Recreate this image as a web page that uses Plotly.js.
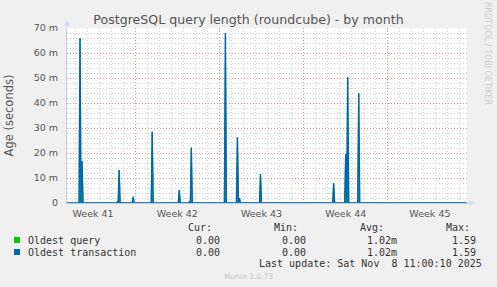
<!DOCTYPE html>
<html><head><meta charset="utf-8">
<script src="https://cdn.plot.ly/plotly-3.0.1.min.js"></script>
<style>html,body{margin:0;padding:0;background:#F0F0F0;}</style>
</head><body>
<div id="chart" style="width:497px;height:287px"></div>
<script>
// ---- data (values in milliseconds of age) ----
const spikeTimes = ['2025-10-07 10:00','2025-10-07 14:00','2025-10-10 12:00','2025-10-10 16:00','2025-10-11 20:00',
  '2025-10-13 10:00','2025-10-15 16:00','2025-10-16 12:00','2025-10-16 16:00','2025-10-19 12:00',
  '2025-10-20 12:00','2025-10-20 16:00','2025-10-22 10:00','2025-10-28 12:00','2025-10-29 12:00',
  '2025-10-29 16:00','2025-10-30 14:00'];
const queryValues = [65.9,16.8,0.4,13.2,2.5,28.5,5.2,0.4,22.1,67.9,26.3,2.0,11.6,7.9,19.6,50.3,43.9];
const transactionValues = [65.9,16.8,0.4,13.2,2.5,28.5,5.2,0.4,22.1,67.9,26.3,2.0,11.6,7.9,19.6,50.3,43.9];
const seriesNames = ['Oldest query','Oldest transaction'];
const seriesColors = ['#00CC00','#0066B3'];
const curVals = ['0.00','0.00'];
const minVals = ['0.00','0.00'];
const avgVals = ['1.02m','1.02m'];
const maxVals = ['1.59','1.59'];
const yTickVals = [0,10,20,30,40,50,60,70];
const yTickText = ['0','10 m','20 m','30 m','40 m','50 m','60 m','70 m'];
const rangeStart = '2025-10-06 08:00';
const rangeEnd = '2025-11-08 14:00';
const lastUpdate = 'Last update: Sat Nov  8 11:00:10 2025';

// ---- build 2-hour sample series ----
const toMs = s => Date.parse(s.replace(' ','T') + ':00Z');
const fmt = ms => new Date(ms).toISOString().slice(0,19).replace('T',' ');
const STEP = 2*3600*1000, DAY = 86400000;
function buildSeries(vals){
  const m = new Map();
  spikeTimes.forEach((t,i)=>m.set(toMs(t), vals[i]));
  const xs=[], ys=[];
  for(let t=toMs(rangeStart); t<=toMs(rangeEnd); t+=STEP){ xs.push(fmt(t)); ys.push(m.has(t)?m.get(t):0); }
  return {xs, ys};
}
const q = buildSeries(queryValues), tr = buildSeries(transactionValues);

// minor grid positions (daily / every 2 units) skipping the major (red) ones
const minorX = [];
for(let t=toMs('2025-10-07 00:00'); t<=toMs(rangeEnd); t+=DAY){ if(new Date(t).getUTCDay()!==0) minorX.push(fmt(t)); }
const minorY = [];
for(let v=2; v<70; v+=2){ if(v%10!==0) minorY.push(v); }

const traces = [
  {x:q.xs, y:q.ys, type:'scatter', mode:'lines', fill:'tozeroy', fillcolor:'#1a9c8e', line:{color:seriesColors[0], width:0.8, simplify:false}, hoverinfo:'skip'},
  {x:tr.xs, y:tr.ys, type:'scatter', mode:'lines', line:{color:seriesColors[1], width:1.4, simplify:false}, hoverinfo:'skip'},
  {x:[rangeStart, rangeEnd], y:[null, null], xaxis:'x2', yaxis:'y', type:'scatter', mode:'lines', hoverinfo:'skip'}
];

// helpers: pixel -> paper coords (plot area 67..467 x, 28..203 y)
const px = x => (x-67)/400;
const py = y => (203-y)/175;
const mono = {family:'DejaVu Sans Mono', size:10, color:'#333'};
const ann = [];
function txt(text, x, y, anchor, font){ ann.push({text, x:px(x), y:py(y), xref:'paper', yref:'paper', xanchor:anchor, yanchor:'middle', showarrow:false, font: font||mono, borderpad:0}); }
txt('Cur:', 213, 227, 'right'); txt('Min:', 299, 227, 'right'); txt('Avg:', 385, 227, 'right'); txt('Max:', 470.5, 227, 'right');
const shapes = [];
seriesNames.forEach((n,i)=>{
  const y = 240 + i*12;
  txt(n, 26.5, y, 'left');
  txt(curVals[i], 220.5, y, 'right'); txt(minVals[i], 306.5, y, 'right');
  txt(avgVals[i], 397.5, y, 'right'); txt(maxVals[i], 477, y, 'right');
  shapes.push({type:'rect', xref:'paper', yref:'paper', x0:px(14), x1:px(20), y0:py(y+3), y1:py(y-3), fillcolor:seriesColors[i], line:{width:0}});
});
txt(lastUpdate, 483, 263.5, 'right');
txt('Munin 2.0.73', 248, 276, 'center', {family:'DejaVu Sans', size:7.5, color:'#c4c4c4'});
ann.push({text:'RRDTOOL / TOBI OETIKER', x:px(488), y:py(53), xref:'paper', yref:'paper', xanchor:'center', yanchor:'middle', textangle:90, showarrow:false, font:{family:'DejaVu Sans', size:8, color:'#cccccc'}});

// axis arrows
const axC = '#c4caf0';
shapes.push({type:'line', xref:'paper', yref:'paper', x0:px(67), x1:px(67), y0:py(28), y1:py(25), line:{color:axC, width:1}});
shapes.push({type:'path', xref:'paper', yref:'paper', path:`M ${px(64.3)} ${py(26)} L ${px(69.7)} ${py(26)} L ${px(67)} ${py(20.5)} Z`, fillcolor:'#d0d6ff', line:{width:0}});
shapes.push({type:'line', xref:'paper', yref:'paper', x0:px(467), x1:px(470), y0:py(203), y1:py(203), line:{color:axC, width:1}});
shapes.push({type:'path', xref:'paper', yref:'paper', path:`M ${px(469)} ${py(200.3)} L ${px(469)} ${py(205.7)} L ${px(474)} ${py(203)} Z`, fillcolor:'#d0d6ff', line:{width:0}});

const tickFont = {family:'DejaVu Sans', size:9.5, color:'#555'};
const redGrid = '#e89090', grayGrid = '#cfcfcf';
const layout = {
  width:497, height:287, margin:{l:67, r:30, t:28, b:84, pad:0},
  paper_bgcolor:'#F0F0F0', plot_bgcolor:'#FFFFFF', showlegend:false,
  font:{family:'DejaVu Sans'},
  title:{text:'PostgreSQL query length (roundcube) - by month', font:{family:'DejaVu Sans', size:12.6, color:'#555'}, x:0.5, xanchor:'center', y:1-20/287, yanchor:'middle'},
  xaxis:{type:'date', range:[rangeStart, rangeEnd], tick0:'2025-10-12', dtick:7*DAY,
    showticklabels:false, ticks:'', showgrid:true, gridcolor:redGrid, griddash:'1px,2px', gridwidth:1,
    zeroline:false, showline:true, linecolor:axC, linewidth:1,
    minor:{tickmode:'array', tickvals:minorX, showgrid:true, gridcolor:grayGrid, griddash:'1px,2px', gridwidth:1, ticks:''}},
  xaxis2:{type:'date', overlaying:'x', anchor:'y', side:'bottom', range:[rangeStart, rangeEnd], tick0:'2025-10-08 12:00', dtick:7*DAY,
    tickformat:'Week %V', showticklabels:true, ticks:'', showgrid:false, zeroline:false, showline:false, tickfont:tickFont, ticklabelstandoff:3},
  yaxis:{range:[0,70], tickvals:yTickVals, ticktext:yTickText, ticks:'', showgrid:true, gridcolor:redGrid, griddash:'1px,2px',
    zeroline:false, showline:true, linecolor:axC, linewidth:1, tickfont:tickFont, ticklabelstandoff:6,
    minor:{tickmode:'array', tickvals:minorY, showgrid:true, gridcolor:grayGrid, griddash:'1px,2px', ticks:''},
    title:{text:'Age (seconds)', font:{family:'DejaVu Sans', size:11.5, color:'#555'}, standoff:17}},
  annotations:ann, shapes:shapes
};
Plotly.newPlot('chart', traces, layout, {displayModeBar:false, staticPlot:true});
</script>
</body></html>
